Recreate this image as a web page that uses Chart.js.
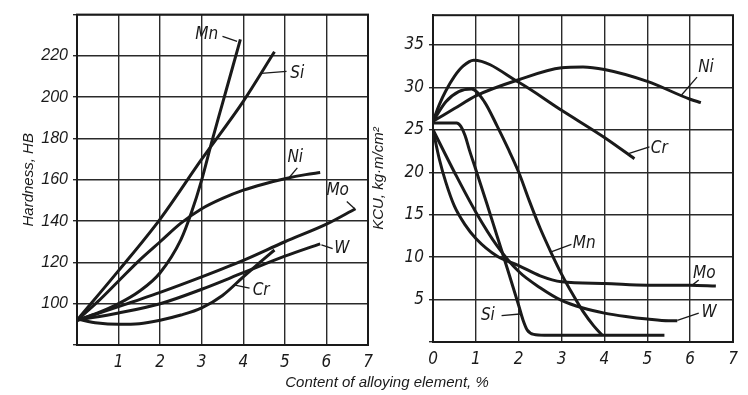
<!DOCTYPE html>
<html>
<head>
<meta charset="utf-8">
<script src="https://cdn.jsdelivr.net/npm/chart.js@4"></script>
<style>
    body { margin: 0; background: #fff; }
    #wrap { position: relative; width: 748px; height: 395px; overflow: hidden; }
    #hbChart { position: absolute; left: 0; top: 0; }
    #kcuChart { position: absolute; left: 368px; top: 0; }
    #xTitle {
        position: absolute; left: 237px; width: 300px; top: 373px; text-align: center;
        font: italic 15px 'Liberation Sans', Arial, sans-serif; color: #1a1a1a;
    }
</style>
</head>
<body>
<div id="wrap">
    <canvas id="hbChart" width="380" height="395"></canvas>
    <canvas id="kcuChart" width="380" height="395"></canvas>
    <div id="xTitle">Content of alloying element, %</div>
</div>
<script>
// hardness HB vs content, %
const hbMn = [[0, 92], [0.5, 95.5], [1, 100], [1.5, 106], [2, 115], [2.5, 131], [2.75, 144], [3, 160], [3.25, 179], [3.5, 197], [3.75, 215], [3.93, 228]];
const hbSi = [[0, 92], [1, 116], [2, 141], [3, 170], [4, 198], [4.75, 222]];
const hbNi = [[0, 92], [0.5, 101], [1, 111], [1.5, 121], [2, 130], [2.5, 139], [3, 146], [3.5, 151], [4, 155], [4.5, 158], [5, 160.5], [5.5, 162.5], [5.85, 163.5]];
const hbMo = [[0, 92], [1, 98.6], [2, 105.5], [3, 113], [4, 121], [5, 130], [6, 138.5], [6.7, 146]];
const hbW = [[0, 92], [1, 95.5], [2, 100], [3, 107], [4, 115], [5, 123], [5.85, 129]];
const hbCr = [[0, 92.6], [0.5, 90.6], [1, 90], [1.5, 90.3], [2, 92], [2.5, 94.5], [3, 98], [3.5, 104], [4, 113], [4.4, 120], [4.75, 126]];

// impact strength KCU vs content, %
const kcuNi = [[0, 26], [0.5, 27.5], [1, 29], [2, 30.9], [3, 32.3], [3.5, 32.4], [4, 32.1], [5, 30.7], [6, 28.6], [6.25, 28.2]];
const kcuCr = [[0, 26], [0.15, 28], [0.3, 29.6], [0.5, 31.3], [0.7, 32.5], [0.95, 33.2], [2, 30.6], [3, 27.3], [4, 24.1], [4.7, 21.6]];
const kcuMn = [[0, 26], [0.3, 28.3], [0.6, 29.5], [0.9, 29.8], [1.2, 28.3], [1.5, 25.4], [1.75, 22.8], [2, 20], [2.25, 16.6], [2.5, 13.4], [2.75, 10.6], [3, 8], [3.25, 5.7], [3.5, 3.6], [3.75, 1.9], [3.95, 0.8]];
const kcuSi = [[0, 25.8], [0.55, 25.8], [0.65, 25.4], [0.75, 24.3], [0.85, 22.6], [1, 20.3], [1.25, 16.4], [1.5, 12.4], [1.75, 8.4], [2, 4.3], [2.1, 2.6], [2.2, 1.4], [2.35, 0.9], [2.6, 0.8], [5.4, 0.8]];
const kcuMo = [[0, 25], [0.15, 21.5], [0.3, 18.8], [0.5, 16], [0.75, 13.8], [1, 12.2], [1.5, 10.1], [2, 9], [2.5, 7.8], [3, 7.1], [4, 6.9], [5, 6.7], [6, 6.7], [6.6, 6.6]];
const kcuW = [[0, 25], [0.5, 20], [1, 15.3], [1.5, 11.3], [2, 8.3], [2.5, 6.4], [3, 4.9], [3.5, 4], [4, 3.4], [4.5, 3], [5, 2.7], [5.5, 2.5], [5.7, 2.5]];

const hbTicks = [100, 120, 140, 160, 180, 200, 220];
const kcuTicks = [5, 10, 15, 20, 25, 30, 35];
const xTicksLeft = [1, 2, 3, 4, 5, 6, 7];
const xTicksRight = [0, 1, 2, 3, 4, 5, 6, 7];

// curve labels: text, text position, leader from, leader to (all in data units)
const hbLabels = [
    ['Mn', 3.12, 230.4, 3.5, 229.5, 3.85, 227],
    ['Si', 5.3, 211.6, 4.43, 211.5, 5.04, 212.5],
    ['Ni', 5.25, 170.6, 5.1, 161, 5.3, 165.8],
    ['Mo', 6.27, 154.7, 6.68, 146, 6.49, 149.5],
    ['W', 6.37, 126.7, 5.88, 128.5, 6.15, 126.7],
    ['Cr', 4.43, 106.5, 3.8, 109, 4.15, 107.5]
];
const kcuLabels = [
    ['Ni', 6.37, 32.3, 5.8, 29.1, 6.16, 31.2],
    ['Cr', 5.28, 22.75, 4.56, 22.2, 5.05, 23],
    ['Mn', 3.53, 11.55, 2.74, 10.6, 3.23, 11.5],
    ['Mo', 6.33, 8.05, 6.05, 6.7, 6.2, 7.3],
    ['W', 6.44, 3.5, 5.7, 2.55, 6.2, 3.4],
    ['Si', 1.28, 3.15, 1.6, 3.1, 2.03, 3.3]
];

const ink = '#1a1a1a';
const gridInk = '#2a2a2a';
const draftFont = "'Liberation Sans Narrow', 'DejaVu Sans Condensed', sans-serif";

function curve(points) {
    return {
        data: points.map(function (p) { return { x: p[0], y: p[1] }; }),
        borderColor: ink,
        borderWidth: 3,
        pointRadius: 0,
        fill: false,
        cubicInterpolationMode: 'monotone'
    };
}

const framePlugin = {
    id: 'frame',
    afterDraw: function (chart) {
        const a = chart.chartArea;
        const c = chart.ctx;
        c.save();
        c.strokeStyle = ink;
        c.lineWidth = 2;
        c.strokeRect(a.left, a.top, a.right - a.left, a.bottom - a.top);
        c.restore();
    }
};

const labelPlugin = {
    id: 'curveLabels',
    afterDatasetsDraw: function (chart, args, opts) {
        const c = chart.ctx;
        const sx = chart.scales.x;
        const sy = chart.scales.y;
        c.save();
        c.strokeStyle = ink;
        c.lineWidth = 1.3;
        c.fillStyle = ink;
        c.font = 'italic 17px ' + draftFont;
        c.textAlign = 'center';
        c.textBaseline = 'middle';
        opts.items.forEach(function (l) {
            c.beginPath();
            c.moveTo(sx.getPixelForValue(l[3]), sy.getPixelForValue(l[4]));
            c.lineTo(sx.getPixelForValue(l[5]), sy.getPixelForValue(l[6]));
            c.stroke();
            c.fillText(l[0], sx.getPixelForValue(l[1]), sy.getPixelForValue(l[2]));
        });
        c.restore();
    }
};

function makeOptions(cfg) {
    return {
        responsive: false,
        animation: false,
        layout: { padding: cfg.padding },
        plugins: {
            legend: { display: false },
            tooltip: { enabled: false },
            curveLabels: { items: cfg.labels }
        },
        scales: {
            x: {
                type: 'linear',
                min: 0,
                max: 7,
                afterBuildTicks: function (s) { s.ticks = cfg.xTicks.map(function (v) { return { value: v }; }); },
                ticks: {
                    color: ink,
                    padding: 7,
                    font: { family: draftFont, style: 'italic', size: 17 },
                    callback: function (v) { return String(v); }
                },
                grid: { color: gridInk, lineWidth: 1.4, drawTicks: false },
                border: { color: ink, width: 2 },
                afterFit: function (s) { s.height = cfg.xHeight; }
            },
            y: {
                type: 'linear',
                min: cfg.yMin,
                max: cfg.yMax,
                afterBuildTicks: function (s) {
                    s.ticks = cfg.gridLines.map(function (v) { return { value: v }; });
                },
                ticks: {
                    color: ink,
                    padding: 5,
                    font: cfg.yFont,
                    callback: function (v) { return cfg.yTicks.indexOf(v) >= 0 ? String(v) : ''; }
                },
                grid: { color: gridInk, lineWidth: 1.4, tickLength: 4 },
                border: { color: ink, width: 2 },
                title: {
                    display: true,
                    text: cfg.yTitle,
                    color: ink,
                    padding: { top: 0, bottom: 0 },
                    font: { family: "'Liberation Sans', Arial, sans-serif", style: 'italic', size: 15 }
                },
                afterFit: function (s) { s.width = cfg.yWidth; }
            }
        }
    };
}

new Chart(document.getElementById('hbChart'), {
    type: 'line',
    data: { datasets: [curve(hbMn), curve(hbSi), curve(hbNi), curve(hbMo), curve(hbW), curve(hbCr)] },
    options: makeOptions({
        padding: { left: 20, top: 10, right: 12, bottom: 0 },
        labels: hbLabels,
        xTicks: xTicksLeft,
        xHeight: 50,
        yMin: 80,
        yMax: 240,
        gridLines: [80, 100, 120, 140, 160, 180, 200, 220, 240],
        yTicks: hbTicks,
        yFont: { family: "'Liberation Sans', Arial, sans-serif", style: 'italic', size: 16 },
        yTitle: 'Hardness, HB',
        yWidth: 57
    }),
    plugins: [framePlugin, labelPlugin]
});

new Chart(document.getElementById('kcuChart'), {
    type: 'line',
    data: { datasets: [curve(kcuNi), curve(kcuCr), curve(kcuMn), curve(kcuSi), curve(kcuMo), curve(kcuW)] },
    options: makeOptions({
        padding: { left: 2, top: 9, right: 15, bottom: 0 },
        labels: kcuLabels,
        xTicks: xTicksRight,
        xHeight: 53,
        yMin: 0,
        yMax: 38.5,
        gridLines: [0, 5, 10, 15, 20, 25, 30, 35],
        yTicks: kcuTicks,
        yFont: { family: draftFont, style: 'italic', size: 17 },
        yTitle: 'KCU, kg·m/cm²',
        yWidth: 63
    }),
    plugins: [framePlugin, labelPlugin]
});
</script>
</body>
</html>
